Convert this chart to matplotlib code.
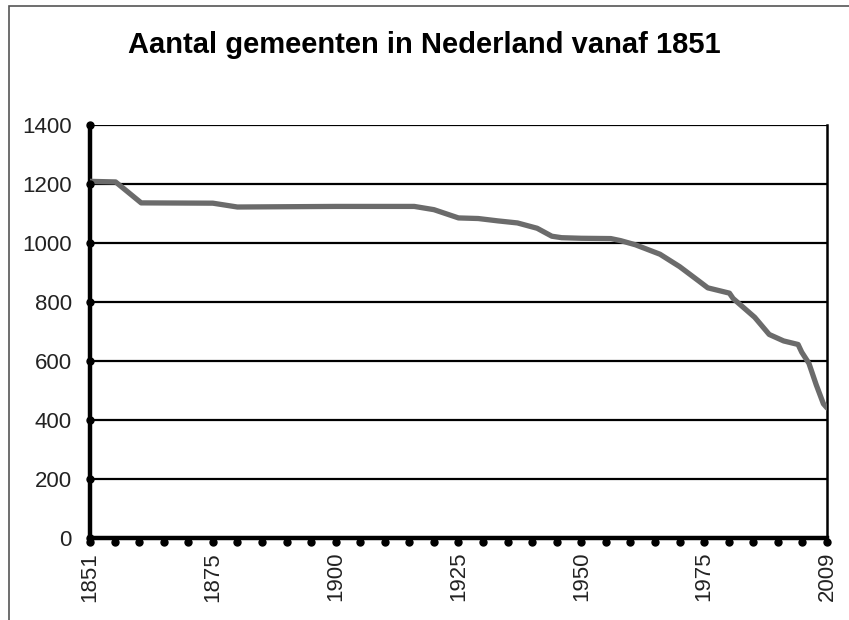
import numpy as np
import matplotlib.pyplot as plt
from matplotlib.patches import Rectangle

# Data
label_years = [1851, 1875, 1900, 1925, 1950, 1975, 2009]
years = [1851, 1856, 1861, 1875, 1880, 1900, 1916, 1920, 1925, 1929, 1933,
         1937, 1941, 1944, 1946, 1950, 1956, 1958, 1961, 1966, 1970, 1974,
         1976, 1982, 1983, 1989, 1993, 1997, 2001, 2002, 2004, 2006, 2008, 2009]
counts = [1209, 1207, 1136, 1135, 1122, 1124, 1124, 1113, 1085, 1083, 1075,
          1068, 1050, 1023, 1018, 1016, 1015, 1008, 994, 962, 920, 870,
          848, 830, 812, 748, 690, 668, 656, 630, 592, 520, 455, 441]

# category-like x axis: label years equally spaced
pos = np.arange(len(label_years))


def fwd(x):
    return np.interp(x, label_years, pos)


def inv(p):
    return np.interp(p, pos, label_years)


plt.rcParams['font.family'] = ['Liberation Sans', 'DejaVu Sans']

fig = plt.figure(figsize=(8.49, 6.2), dpi=100)
ax = fig.add_axes([90 / 849, 82 / 620, 737 / 849, 413 / 620])

ax.plot(years, counts, color='#6b6b6b', lw=3.8, solid_capstyle='round', zorder=3)

ax.set_xscale('function', functions=(fwd, inv))
ax.set_xlim(1851, 2009)
ax.set_ylim(0, 1400)
ax.set_yticks(range(0, 1401, 200))
ax.set_xticks(label_years)
ax.set_xticklabels([str(y) for y in label_years], rotation=90)
ax.minorticks_off()
ax.grid(axis='y', color='black', lw=1.6, zorder=1)

ax.tick_params(axis='both', length=0, labelsize=16, labelcolor='#222222')
ax.tick_params(axis='y', pad=13)
ax.tick_params(axis='x', pad=10)
for s in ['left', 'bottom']:
    ax.spines[s].set_linewidth(3.2)
ax.spines['right'].set_linewidth(1.8)
ax.spines['top'].set_visible(False)

# dotted tick marks like the original
minor_x = inv(np.arange(0, len(label_years) - 1 + 1e-9, 0.2))
ax.plot(minor_x, np.zeros_like(minor_x) - 12, 'o', color='black', ms=5,
        clip_on=False, zorder=5)
ax.vlines(minor_x, -12, 0, color='black', lw=2, clip_on=False, zorder=5)
yt = np.arange(0, 1401, 200)
ax.plot(np.full(len(yt), 1849.8), yt, 'o', color='black', ms=5,
        clip_on=False, zorder=5)

fig.text(0.5, 1 - 45 / 620, 'Aantal gemeenten in Nederland vanaf 1851',
         ha='center', va='center', fontsize=21, fontweight='bold')

fig.patches.append(Rectangle((9 / 849, -0.1), 1.2, 1 - 6 / 620 + 0.1,
                             transform=fig.transFigure, fill=False,
                             edgecolor='#555555', lw=1.2))

fig.savefig('out.png', dpi=100)
